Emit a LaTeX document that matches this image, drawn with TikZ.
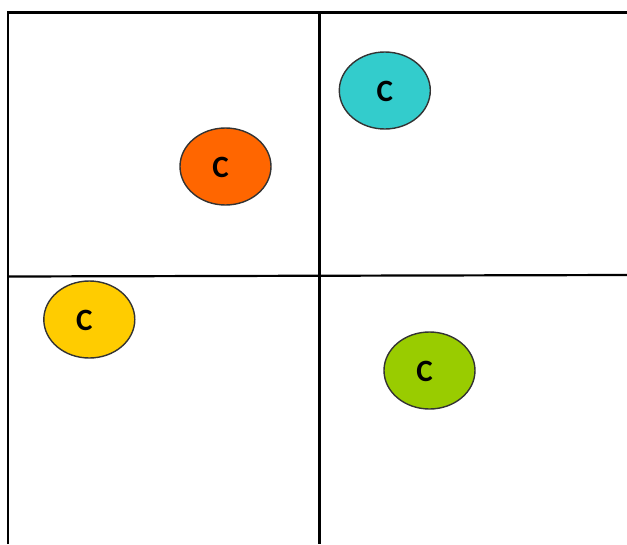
\documentclass[tikz,border=0pt]{standalone}
\usepackage{fontspec}
\setmainfont{Carlito}
\usepackage{tikz}
\usetikzlibrary{shapes.geometric}
\definecolor{arancio}{HTML}{FF6600}
\definecolor{ciano}{HTML}{33CCCC}
\definecolor{giallo}{HTML}{FFCC00}
\definecolor{verde}{HTML}{99CC00}
\newcommand{\lettera}{{\fontsize{31}{37}\selectfont\bfseries C}}
\tikzset{
  cluster/.style = {ellipse, draw = black!80, line width = 1.4pt, minimum width = 91pt, minimum height = 77pt, inner sep = 0pt},
  etichetta/.style = {inner sep = 0pt},
  bordo/.style = {line width = 2.2pt}
}

\begin{document}
\begin{tikzpicture}[x = 1pt, y = -1pt]
    \useasboundingbox (0,0) rectangle (627,544);
    % parametri
    \pgfmathsetmacro{\sx}{8}
    \pgfmathsetmacro{\mx}{319.5}
    \pgfmathsetmacro{\alto}{12.5}
    % griglia
    \coordinate (nw) at (\sx,\alto);
    \coordinate (ne) at (627,\alto);
    \coordinate (sw) at (\sx,544);
    \coordinate (nm) at (\mx,\alto);
    \coordinate (sm) at (\mx,544);
    \coordinate (ow) at (\sx,276.5);
    \coordinate (oe) at (627,275);
    \draw[bordo] (sw) -- (nw) -- (ne);
    \draw[bordo] (nm) -- (sm);
    \draw[bordo] (ow) -- (oe);
    % cluster
    \node[cluster, fill = arancio] (arancio) at (225.5,166.5) {};
    \node[cluster, fill = ciano] (ciano) at (384.8,90.5) {};
    \node[cluster, fill = giallo] (giallo) at (89.3,319.5) {};
    \node[cluster, fill = verde] (verde) at (429.5,370.5) {};
    % etichette
    \node[etichetta] (carancio) at ([shift = {(-5,1)}]arancio.center) {\lettera};
    \node[etichetta] (cciano) at ([shift = {(0,1)}]ciano.center) {\lettera};
    \node[etichetta] (cgiallo) at ([shift = {(-5,1)}]giallo.center) {\lettera};
    \node[etichetta] (cverde) at ([shift = {(-5,1)}]verde.center) {\lettera};
\end{tikzpicture}
\end{document}
